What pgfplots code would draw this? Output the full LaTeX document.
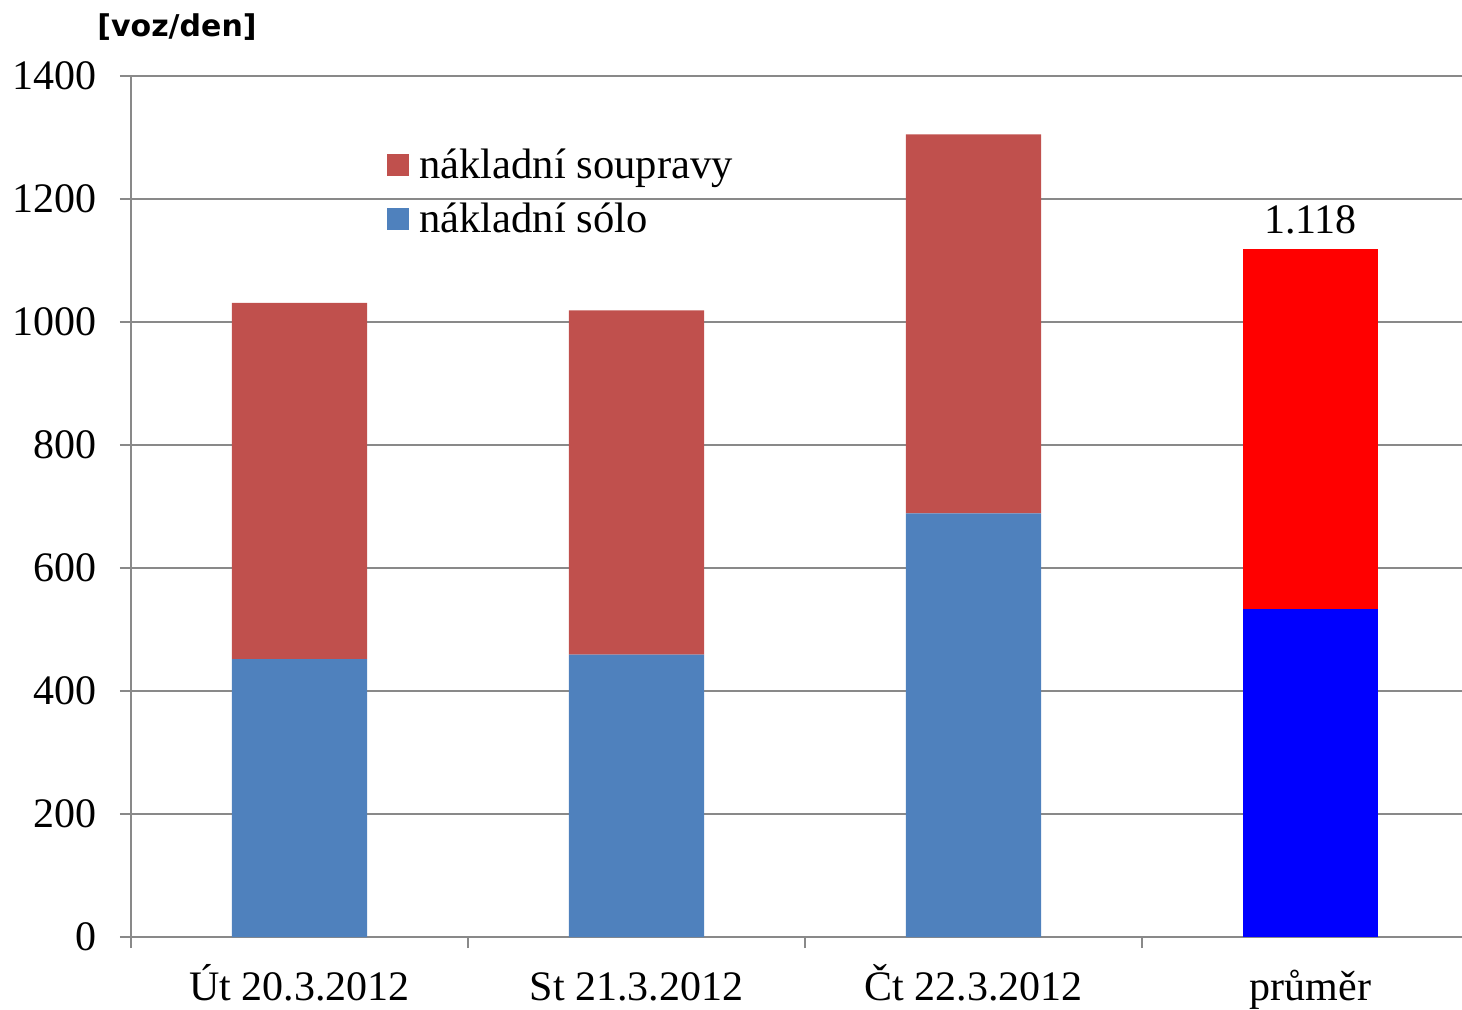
\documentclass[border=0pt]{standalone}
\usepackage{pgfplots}
\pgfplotsset{compat=1.18}
\usepackage{fontspec}
\setmainfont{Liberation Serif}
\newfontfamily\titlefont{DejaVu Sans}
\definecolor{cred}{HTML}{C0504D}
\definecolor{cblue}{HTML}{4F81BD}
\definecolor{gridgray}{HTML}{898989}
\begin{document}
\begin{tikzpicture}
\begin{axis}[
  at={(0,0)}, anchor=south west,
  scale only axis, width=665.5pt, height=430.5pt,
  ybar stacked, bar width=67.5pt,
  xmin=-0.5, xmax=3.4496, ymin=0, ymax=1400,
  axis x line=bottom, axis y line=left,
  axis line style={-, draw=gridgray, line width=1pt},
  ytick={0,200,...,1400},
  ymajorgrids, major grid style={draw=gridgray, line width=1pt},
  tick align=outside, major tick length=5.5pt,
  ytick style={draw=gridgray, line width=1pt},
  xtick={0,1,2,3},
  xticklabels={Út 20.3.2012, St 21.3.2012, Čt 22.3.2012, průměr},
  xtick style={draw=none},
  extra x ticks={-0.5,0.5,1.5,2.5},
  extra x tick labels={},
  extra x tick style={xtick style={draw=gridgray, line width=1pt}, grid=none},
  /pgf/number format/assume math mode=true,
  /pgf/number format/1000 sep={},
  tick label style={font=\fontsize{21}{25}\selectfont},
  yticklabel style={anchor=east, inner sep=0pt, xshift=-11.5pt},
  xticklabel style={anchor=base, inner sep=0pt, yshift=-26pt},
  legend style={at={(0.1878,0.9255)}, anchor=north west, draw=none, fill=none,
    font=\fontsize{21.3}{25}\selectfont, row sep=7pt, column sep=3pt},
  legend cell align=left,
  reverse legend,
  legend image code/.code={\fill[#1] (0pt,-5.5pt) rectangle (11pt,5.5pt);},
]
\addplot[fill=cblue, draw=none] coordinates {(0,452) (1,459) (2,689) (3,0)};
\addlegendentry{nákladní sólo}
\addplot[fill=cred, draw=none] coordinates {(0,579) (1,560) (2,616) (3,0)};
\addlegendentry{nákladní soupravy}
\addplot[fill=blue, draw=none, forget plot] coordinates {(0,0) (1,0) (2,0) (3,533)};
\addplot[fill=red, draw=none, forget plot,
  point meta=explicit symbolic,
  nodes near coords,
  nodes near coords style={font=\fontsize{21}{25}\selectfont, text=black, anchor=south, yshift=93.9pt}]
  coordinates {(0,0) [{}] (1,0) [{}] (2,0) [{}] (3,585) [1.118]};
\end{axis}
\node[font=\titlefont\bfseries\fontsize{15}{18}\selectfont] at (23pt,455pt) {[voz/den]};
\pgfresetboundingbox
\path[use as bounding box] (-65.5pt,-36pt) rectangle (665.5pt,468.5pt);
\end{tikzpicture}
\end{document}
